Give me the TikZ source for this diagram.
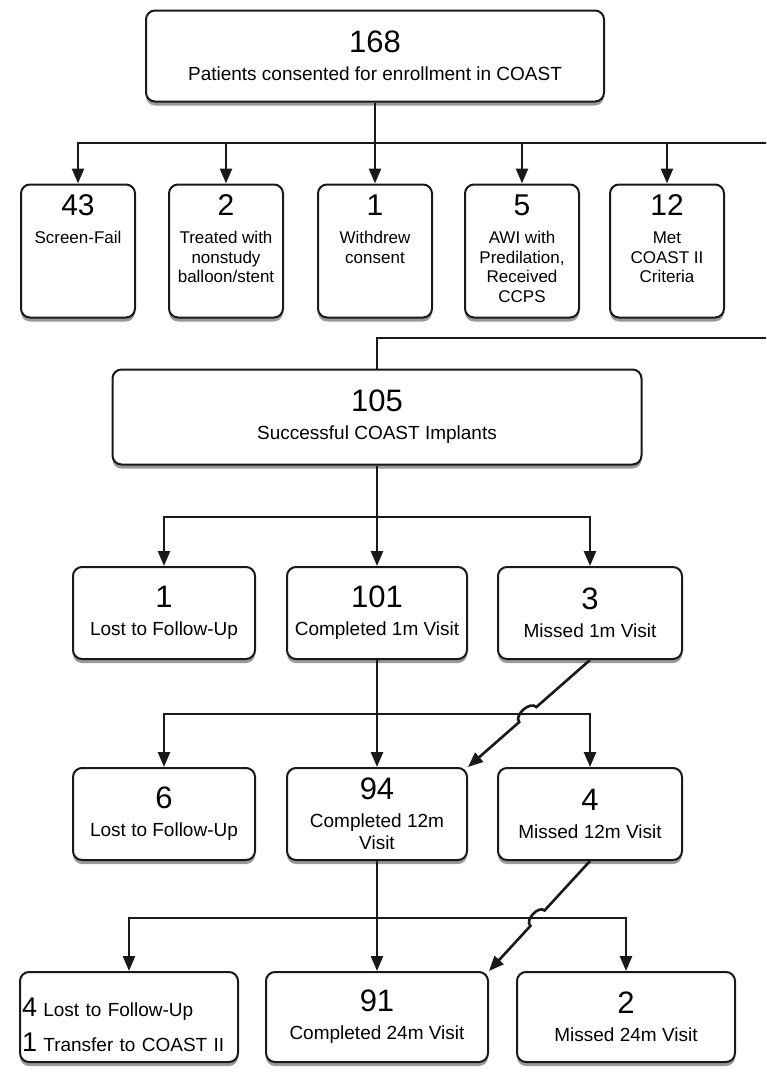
\documentclass[tikz,border=0pt]{standalone}
\usepackage{fontspec}
\setmainfont{Liberation Sans}
\usepackage{tikz}
\usetikzlibrary{arrows.meta,calc,shadows}
\tikzset{every node/.append style={align=center}}
\definecolor{flowink}{RGB}{25,25,25}

\tikzset{
  flowbox/.style={draw=flowink, line width=2pt, rounded corners=9pt, fill=white,
    drop shadow={shadow xshift=0pt, shadow yshift=-4pt, opacity=0.4, fill=black},
    inner sep=0pt, font=\fontsize{19}{22}\selectfont},
  flowline/.style={draw=flowink, line width=2.6pt},
  flowarrow/.style={flowline, -{Triangle[length=15pt,width=12pt]}},
}
\newcommand{\bignum}[1]{{\fontsize{31}{33}\selectfont #1}\\[6pt]}
\newcommand{\tallbox}[2]{\parbox[c][133pt][t]{114pt}{\centering
  \vspace*{10pt}{\fontsize{30}{32}\selectfont #1}\\[9pt]%
  \fontsize{17}{19.5}\selectfont #2}}

\begin{document}
\begin{tikzpicture}[x=1pt, y=-1pt]
  \useasboundingbox (0,0) rectangle (766,1074);
  \clip (0,0) rectangle (766,1074);

  % Enrollment
  \node[flowbox, minimum width=458, minimum height=91] (n168) at (375,56)
    {\bignum{168}Patients consented for enrollment in COAST};

  % === Exclusions ===
  \coordinate (bus1) at (375,143);
  \coordinate (off1) at (800,143);
  \coordinate (off2) at (800,338);
  \node[flowbox] (n43) at (78,251) {\tallbox{43}{Screen-Fail}};
  \node[flowbox] (n2) at (226,251)
    {\tallbox{2}{Treated with\\nonstudy\\balloon/stent}};
  \node[flowbox] (n1) at (375,251) {\tallbox{1}{Withdrew\\consent}};
  \node[flowbox] (n5) at (522,251)
    {\tallbox{5}{AWI with\\Predilation,\\Received\\CCPS}};
  \node[flowbox] (n12) at (667,251) {\tallbox{12}{Met\\COAST II\\Criteria}};

  \draw[flowline] (n168.south) -- (bus1);
  \draw[flowline] (bus1 -| n43) -- (off1);
  \draw[flowarrow] (bus1) -| (n43.north);
  \draw[flowarrow] (bus1) -| (n2.north);
  \draw[flowarrow] (bus1) -- (n1.north);
  \draw[flowarrow] (bus1) -| (n5.north);
  \draw[flowarrow] (bus1) -| (n12.north);

  % Implants
  \node[flowbox, minimum width=529, minimum height=95] (n105) at (377,417)
    {\bignum{105}Successful COAST Implants};
  \draw[flowline] (off1) -- (off2) -- (off2 -| n105) -- (n105.north);

  % === 1m visit ===
  \coordinate (bus2) at (377,517);
  \node[flowbox, minimum width=182, minimum height=92] (lost1) at (164,613)
    {\bignum{1}Lost to Follow-Up};
  \node[flowbox, minimum width=180, minimum height=92] (done1) at (377,613)
    {\bignum{101}Completed 1m Visit};
  \node[flowbox, minimum width=184, minimum height=92] (miss1) at (590,613)
    {\bignum{3}Missed 1m Visit};
  \draw[flowline] (n105.south) -- (bus2);
  \draw[flowarrow] (bus2) -| (lost1.north);
  \draw[flowarrow] (bus2) -- (done1.north);
  \draw[flowarrow] (bus2) -| (miss1.north);

  % === 12m visit ===
  \coordinate (bus3) at (377,714);
  \node[flowbox, minimum width=182, minimum height=92] (lost2) at (164,814)
    {\bignum{6}Lost to Follow-Up};
  \node[flowbox, minimum width=180, minimum height=92] (done2) at (377,814)
    {\bignum{94}Completed 12m\\Visit};
  \node[flowbox, minimum width=184, minimum height=92] (miss2) at (590,814)
    {\bignum{4}Missed 12m Visit};
  \draw[flowarrow] (done1.south) -- (done2.north);
  \draw[flowarrow] (bus3) -| (lost2.north);
  \draw[flowarrow] (bus3) -| (miss2.north);
  % missed visit rejoins, hopping over the branch line
  \coordinate (hop1a) at ($(miss1.south)!0.44!(done2.north east)$);
  \coordinate (hop1b) at ($(miss1.south)!0.58!(done2.north east)$);
  \draw[flowarrow] (miss1.south) -- (hop1a)
    to[bend right=90] (hop1b) -- (done2.north east);

  % === 24m visit ===
  \coordinate (bus4) at (377,918);
  \node[flowbox, minimum width=218, minimum height=90, align=left,
    text width=214] (lost3) at (129,1017)
    {\rule{0pt}{34pt}{\fontsize{27}{29}\selectfont 4} Lost to Follow-Up\\[11pt]
     {\fontsize{27}{29}\selectfont 1} Transfer to COAST II};
  \node[flowbox, minimum width=222, minimum height=90] (done3) at (377,1017)
    {\bignum{91}Completed 24m Visit};
  \node[flowbox, minimum width=218, minimum height=90] (miss3) at (626,1017)
    {\bignum{2}Missed 24m Visit};
  \draw[flowarrow] (done2.south) -- (done3.north);
  \draw[flowarrow] (bus4) -| (lost3.north);
  \draw[flowarrow] (bus4) -| (miss3.north);
  \coordinate (hop2a) at ($(miss2.south)!0.45!(done3.north east)$);
  \coordinate (hop2b) at ($(miss2.south)!0.59!(done3.north east)$);
  \draw[flowarrow] (miss2.south) -- (hop2a)
    to[bend right=90] (hop2b) -- (done3.north east);

\end{tikzpicture}
\end{document}
